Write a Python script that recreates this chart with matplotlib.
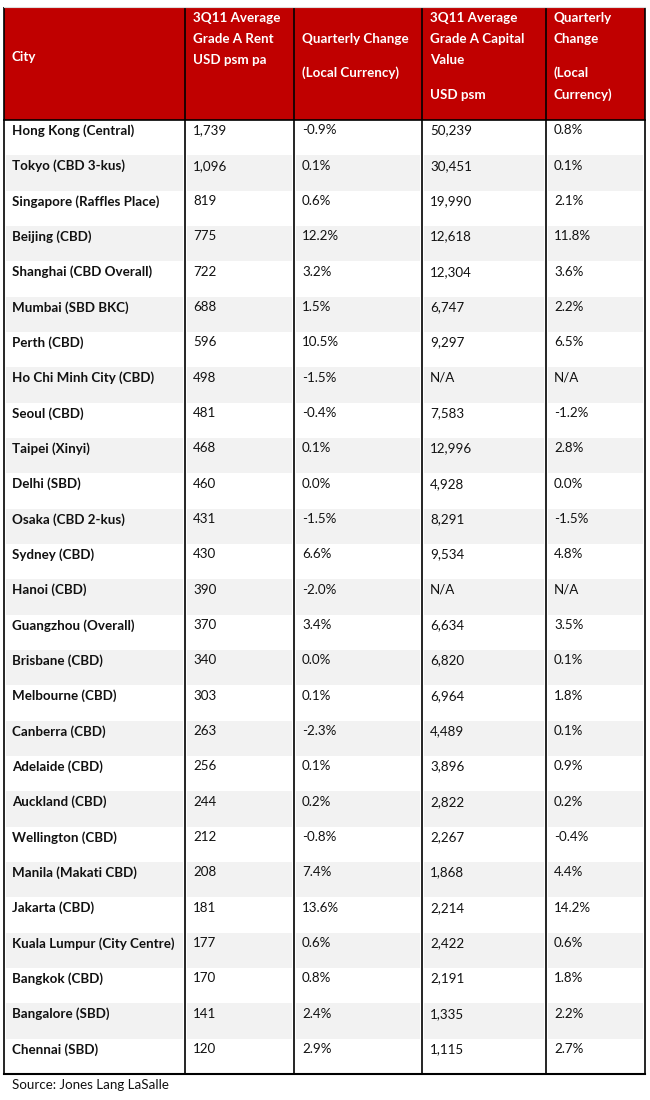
import matplotlib
matplotlib.use("Agg")
import matplotlib.pyplot as plt
from matplotlib.patches import Rectangle

cities = ["Hong Kong (Central)", "Tokyo (CBD 3-kus)", "Singapore (Raffles Place)", "Beijing (CBD)",
          "Shanghai (CBD Overall)", "Mumbai (SBD BKC)", "Perth (CBD)", "Ho Chi Minh City (CBD)",
          "Seoul (CBD)", "Taipei (Xinyi)", "Delhi (SBD)", "Osaka (CBD 2-kus)", "Sydney (CBD)",
          "Hanoi (CBD)", "Guangzhou (Overall)", "Brisbane (CBD)", "Melbourne (CBD)", "Canberra (CBD)",
          "Adelaide (CBD)", "Auckland (CBD)", "Wellington (CBD)", "Manila (Makati CBD)", "Jakarta (CBD)",
          "Kuala Lumpur (City Centre)", "Bangkok (CBD)", "Bangalore (SBD)", "Chennai (SBD)"]
rent = ["1,739", "1,096", "819", "775", "722", "688", "596", "498", "481", "468", "460", "431", "430",
        "390", "370", "340", "303", "263", "256", "244", "212", "208", "181", "177", "170", "141", "120"]
rent_change = ["-0.9%", "0.1%", "0.6%", "12.2%", "3.2%", "1.5%", "10.5%", "-1.5%", "-0.4%", "0.1%",
               "0.0%", "-1.5%", "6.6%", "-2.0%", "3.4%", "0.0%", "0.1%", "-2.3%", "0.1%", "0.2%",
               "-0.8%", "7.4%", "13.6%", "0.6%", "0.8%", "2.4%", "2.9%"]
capital = ["50,239", "30,451", "19,990", "12,618", "12,304", "6,747", "9,297", "N/A", "7,583", "12,996",
           "4,928", "8,291", "9,534", "N/A", "6,634", "6,820", "6,964", "4,489", "3,896", "2,822",
           "2,267", "1,868", "2,214", "2,422", "2,191", "1,335", "1,115"]
capital_change = ["0.8%", "0.1%", "2.1%", "11.8%", "3.6%", "2.2%", "6.5%", "N/A", "-1.2%", "2.8%",
                  "0.0%", "-1.5%", "4.8%", "N/A", "3.5%", "0.1%", "1.8%", "0.1%", "0.9%", "0.2%",
                  "-0.4%", "4.4%", "14.2%", "0.6%", "1.8%", "2.2%", "2.7%"]

# header lines: (text, y position)
headers = [
    [("City", 57)],
    [("3Q11 Average", 18), ("Grade A Rent", 39), ("USD psm pa", 60)],
    [("Quarterly Change", 39), ("(Local Currency)", 73)],
    [("3Q11 Average", 18), ("Grade A Capital", 39), ("Value", 60), ("USD psm", 95)],
    [("Quarterly", 18), ("Change", 39), ("(Local", 73), ("Currency)", 95)],
]
source = "Source: Jones Lang LaSalle"

W, H = 650, 1100
fig = plt.figure(figsize=(6.5, 11), dpi=100)
ax = fig.add_axes([0, 0, 1, 1])
ax.set_xlim(0, W)
ax.set_ylim(H, 0)
ax.axis("off")

FONT = ["Lato", "DejaVu Sans"]
FS = 9.6
RED = "#C00000"
GRAY = "#F2F2F2"

col_x = [4, 185, 294, 422, 546, 645]
text_pad = 8
top = 7
head_bot = 120
bottom = 1074
n = len(cities)
row_h = (bottom - head_bot) / n

# header
ax.add_patch(Rectangle((col_x[0], top), col_x[-1] - col_x[0], head_bot - top, color=RED, lw=0))
for c, lines in enumerate(headers):
    for txt, y in lines:
        ax.text(col_x[c] + text_pad, y, txt, color="white", fontsize=FS, fontweight="bold",
                family=FONT, va="center", ha="left")

columns = [cities, rent, rent_change, capital, capital_change]
for i in range(n):
    y0 = head_bot + i * row_h
    if i % 2 == 1:
        for c in range(5):
            ax.add_patch(Rectangle((col_x[c] + 2, y0), col_x[c + 1] - col_x[c] - 4, row_h,
                                   color=GRAY, lw=0))
    for c in range(5):
        ax.text(col_x[c] + text_pad, y0 + 10.5, columns[c][i], color="#111111", fontsize=FS,
                fontweight="bold" if c == 0 else "normal", family=FONT, va="center", ha="left")

# lines
for x in col_x:
    ax.plot([x, x], [top, bottom], color="black", lw=1.2, solid_capstyle="butt")
ax.plot([col_x[0], col_x[-1]], [head_bot, head_bot], color="black", lw=1.2)
ax.plot([col_x[0], col_x[-1]], [bottom, bottom], color="black", lw=1.5)
ax.plot([col_x[0], col_x[-1]], [top, top], color="#dddddd", lw=0.8)

ax.text(12, 1085, source, fontsize=FS, family=FONT, va="center", ha="left", color="#111111")

fig.savefig("out.png", dpi=100, facecolor="white")
